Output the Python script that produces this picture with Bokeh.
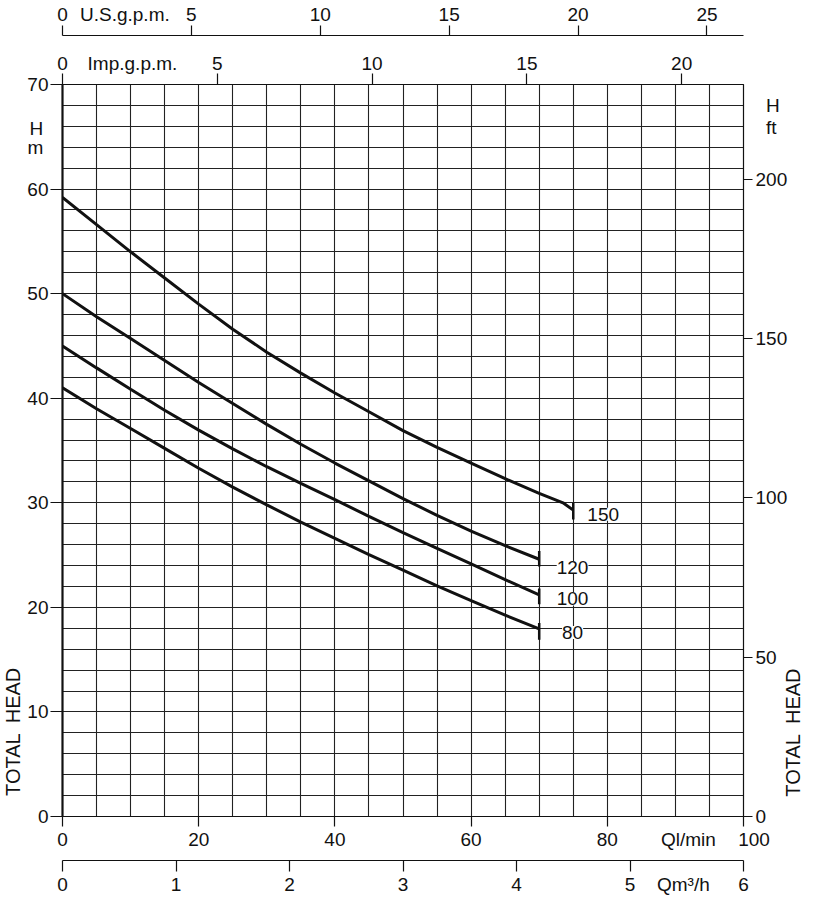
from bokeh.plotting import figure
from bokeh.models import Range1d, LinearAxis, FixedTicker, Label
from bokeh.embed import file_html
from bokeh.resources import INLINE

# ---------------- data ----------------
# flow in l/min, head in m
q_150 = [0, 5, 10, 15, 20, 25, 30, 35, 40, 45, 50, 55, 60, 65, 70, 73.5, 75]
h_150 = [59.2, 56.6, 54.0, 51.5, 49.0, 46.6, 44.4, 42.4, 40.5, 38.7, 36.9, 35.3,
         33.8, 32.3, 30.9, 30.0, 29.3]
q_std = [0, 5, 10, 15, 20, 25, 30, 35, 40, 45, 50, 55, 60, 65, 70]
h_120 = [50.0, 47.8, 45.7, 43.6, 41.5, 39.5, 37.5, 35.6, 33.8, 32.1, 30.4, 28.8,
         27.3, 25.9, 24.6]
h_100 = [45.0, 42.9, 40.85, 38.85, 36.95, 35.15, 33.45, 31.85, 30.3, 28.7, 27.15,
         25.65, 24.15, 22.65, 21.2]
h_80 = [41.0, 39.0, 37.1, 35.2, 33.3, 31.5, 29.8, 28.15, 26.6, 25.05, 23.55, 22.05,
        20.65, 19.25, 17.95]

curve_names = ["150", "120", "100", "80"]
mark_q = [75, 70, 70, 70]
mark_top = [30.0, 25.4, 21.8, 18.5]
mark_bot = [28.4, 23.9, 20.3, 16.9]
label_q = [79.4, 74.9, 74.9, 74.9]
label_h = [28.9, 23.8, 20.8, 17.6]

ql_ticks = [0, 20, 40, 60, 80, 100]
m3h_ticks = [0, 1, 2, 3, 4, 5, 6]
usgpm_ticks = [0, 5, 10, 15, 20, 25]
impgpm_ticks = [0, 5, 10, 15, 20]
head_m_ticks = [0, 10, 20, 30, 40, 50, 60, 70]
head_ft_ticks = [0, 50, 100, 150, 200]
grid_q = list(range(0, 101, 5))
grid_h = list(range(0, 71, 2))

# where the unit names sit along their scales
ql_name_at = 91.9       # l/min
m3h_name_at = 5.47      # m3/h
us_name_at = 2.42       # US gpm
imp_name_at = 2.26      # Imp gpm
m_H_at, m_m_at = 65.8, 64.0          # m
ft_H_at, ft_ft_at = 223.1, 216.2     # ft
total_head_left_pos = (-7.3, 8.1)    # (l/min, m) centre of the left "TOTAL HEAD"
total_head_right_at = 1.9            # m (lower end of the right text)

Q_MAX = 100.0
H_MAX = 70.0
L_PER_USGAL = 3.78541
L_PER_IMPGAL = 4.54609
M_PER_FT = 0.3048

FONT = "Liberation Sans"
FS = "19px"
INK = "#111111"
NB = "\u00a0"
TOTAL_HEAD = "TOTAL\u2002HEAD"

p = figure(frame_width=681, frame_height=732,
           x_range=Range1d(0, Q_MAX), y_range=Range1d(0, H_MAX),
           output_backend="svg", toolbar_location=None,
           min_border_left=62, min_border_right=72,
           min_border_top=83, min_border_bottom=100)
p.outline_line_color = INK
p.outline_line_width = 1
p.background_fill_color = "white"
p.border_fill_color = "white"

p.extra_x_ranges = {
    "m3h": Range1d(0, Q_MAX * 60 / 1000),
    "us": Range1d(0, Q_MAX / L_PER_USGAL),
    "imp": Range1d(0, Q_MAX / L_PER_IMPGAL),
}
p.extra_y_ranges = {"ft": Range1d(0, H_MAX / M_PER_FT)}


def tick_axis(ax, ticks, tick_out, line_width=1.2):
    """axis that draws only its line and tick marks"""
    ax.ticker = FixedTicker(ticks=ticks)
    ax.major_tick_out = tick_out
    ax.major_tick_in = 0
    ax.minor_tick_line_color = None
    ax.major_tick_line_color = INK
    ax.major_tick_line_width = 1.2
    ax.axis_line_color = INK
    ax.axis_line_width = line_width
    ax.major_label_text_font_size = "1px"
    ax.major_label_text_color = None
    ax.major_label_standoff = 0


def label_axis(ax, ticks, overrides, standoff, orientation=None):
    """axis that draws only its labels"""
    ax.ticker = FixedTicker(ticks=ticks)
    ax.major_label_overrides = overrides
    ax.major_tick_out = 0
    ax.major_tick_in = 0
    ax.major_tick_line_color = None
    ax.minor_tick_line_color = None
    ax.axis_line_color = None
    ax.major_label_text_font = FONT
    ax.major_label_text_font_size = FS
    ax.major_label_text_color = INK
    ax.major_label_standoff = standoff
    if orientation is not None:
        ax.major_label_orientation = orientation


def spacer(ax, size):
    ax.axis_label = NB
    ax.axis_label_text_font_size = size
    ax.axis_label_standoff = 0
    ax.axis_label_text_color = None


# ---- bottom ----
tick_axis(p.xaxis[0], ql_ticks, 10)
b1 = LinearAxis()
label_axis(b1, ql_ticks + [ql_name_at], {ql_name_at: "Ql/min", 100: NB * 4 + "100"}, 2)
spacer(b1, "4px")
p.add_layout(b1, "below")
a2 = LinearAxis(x_range_name="m3h")
tick_axis(a2, m3h_ticks, 11)
p.add_layout(a2, "below")
b2 = LinearAxis(x_range_name="m3h")
label_axis(b2, m3h_ticks + [m3h_name_at], {m3h_name_at: "Qm³/h"}, 2)
p.add_layout(b2, "below")

# ---- top ----
a3 = LinearAxis(x_range_name="imp")
tick_axis(a3, impgpm_ticks, 11)
p.add_layout(a3, "above")
b3 = LinearAxis(x_range_name="imp")
label_axis(b3, impgpm_ticks + [imp_name_at], {imp_name_at: "Imp.g.p.m."}, 0)
spacer(b3, "10px")
p.add_layout(b3, "above")
a4 = LinearAxis(x_range_name="us")
tick_axis(a4, usgpm_ticks, 10)
p.add_layout(a4, "above")
b4 = LinearAxis(x_range_name="us")
label_axis(b4, usgpm_ticks + [us_name_at], {us_name_at: "U.S.g.p.m."}, 1)
p.add_layout(b4, "above")

# ---- left ----
tick_axis(p.yaxis[0], head_m_ticks, 12, line_width=2.2)
b5 = LinearAxis()
label_axis(b5, head_m_ticks + [m_H_at, m_m_at], {m_H_at: "H" + NB, m_m_at: "m" + NB}, 2)
p.add_layout(b5, "left")
p.add_layout(Label(x=total_head_left_pos[0], y=total_head_left_pos[1], text=TOTAL_HEAD,
                   angle=1.5708, text_align="center", text_baseline="middle",
                   text_font=FONT, text_font_size="20px", text_color=INK), "left")

# ---- right ----
a6 = LinearAxis(y_range_name="ft")
tick_axis(a6, head_ft_ticks, 9)
p.add_layout(a6, "right")
b6 = LinearAxis(y_range_name="ft")
label_axis(b6, head_ft_ticks + [ft_H_at, ft_ft_at],
           {ft_H_at: NB * 2 + "H", ft_ft_at: NB * 2 + "ft"}, 3)
p.add_layout(b6, "right")
c6 = LinearAxis()
label_axis(c6, [total_head_right_at], {total_head_right_at: TOTAL_HEAD}, 3,
           orientation=1.5708)
c6.major_label_text_font_size = "20px"
p.add_layout(c6, "right")

# ---- grid ----
p.xgrid.ticker = FixedTicker(ticks=grid_q)
p.ygrid.ticker = FixedTicker(ticks=grid_h)
for g in (p.xgrid, p.ygrid):
    g.grid_line_color = "#222222"
    g.grid_line_width = 1.1
    g.grid_line_alpha = 1.0

# ---- curves ----
p.line(q_150, h_150, line_color=INK, line_width=3)
p.line(q_std, h_120, line_color=INK, line_width=3)
p.line(q_std, h_100, line_color=INK, line_width=3)
p.line(q_std, h_80, line_color=INK, line_width=3)
p.segment(x0=mark_q, y0=mark_top, x1=mark_q, y1=mark_bot, line_color=INK, line_width=2.5)

for name, lq, lh in zip(curve_names, label_q, label_h):
    p.add_layout(Label(x=lq, y=lh, text=name, text_align="center", text_baseline="middle",
                       text_font=FONT, text_font_size=FS, text_color=INK,
                       background_fill_color="white"))

open("out.html", "w").write(file_html(p, INLINE))
